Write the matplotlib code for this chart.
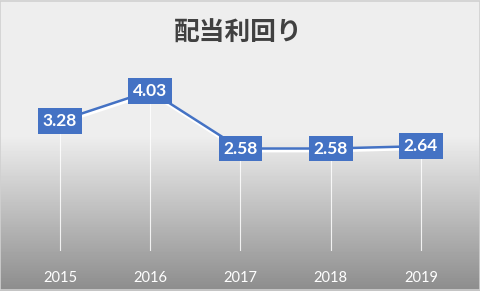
import numpy as np
import matplotlib
matplotlib.use('Agg')
import matplotlib.pyplot as plt
import matplotlib.transforms as mtransforms
from matplotlib.patches import Rectangle

years = ['2015', '2016', '2017', '2018', '2019']
yields = [3.28, 4.03, 2.58, 2.58, 2.64]
title = '配当利回り'

blue = '#4472c4'

fig = plt.figure(figsize=(4.81, 2.91), dpi=100)

# background gradient (flat light gray at top, darker towards the bottom)
bg = fig.add_axes([0, 0, 1, 1], zorder=0)
rows = np.linspace(0, 1, 291)
shade = np.where(rows < 0.47, 0.93, 0.93 - (rows - 0.47) / 0.53 * 0.38)
img = np.repeat(shade[:, None], 2, axis=1)
bg.imshow(img, cmap='gray', vmin=0, vmax=1, aspect='auto',
          extent=[0, 1, 0, 1], origin='upper')
bg.set_xlim(0, 1)
bg.set_ylim(0, 1)
bg.axis('off')
bg.add_patch(Rectangle((0.001, 0.002), 0.997, 0.995, fill=False,
                       edgecolor='#d0d0d0', linewidth=1.2))

ax = fig.add_axes([0.031, 0.137, 0.938, 0.615], zorder=1)
ax.patch.set_alpha(0)
x = np.arange(len(years))

# drop lines
ax.vlines(x, 0, yields, color='white', linewidth=0.8, alpha=0.85, zorder=1)

# white shadow under the line
shadow_tr = mtransforms.offset_copy(ax.transData, fig=fig, x=0.8, y=-1.8,
                                    units='dots')
ax.plot(x, yields, color='white', linewidth=3.0, transform=shadow_tr,
        zorder=2, solid_capstyle='round')
ax.plot(x, yields, color=blue, linewidth=1.8, zorder=3,
        solid_capstyle='round')

for xi, v in zip(x, yields):
    ax.text(xi, v, f'{v:.2f}', ha='center', va='center', color='white',
            fontsize=12.5, fontweight='bold', family=['Lato', 'DejaVu Sans'],
            zorder=4,
            bbox=dict(boxstyle='square,pad=0.28', facecolor=blue,
                      edgecolor='none'))

ax.set_xlim(-0.5, len(years) - 0.5)
ax.set_ylim(0, 4.5)
ax.set_yticks([])
ax.set_xticks(x)
ax.set_xticklabels(years, color='white', fontsize=10.5,
                   family=['Lato', 'DejaVu Sans'])
ax.tick_params(axis='x', length=0, pad=14)
for s in ax.spines.values():
    s.set_visible(False)

fig.text(0.495, 0.886, title, ha='center', va='center', fontsize=18.5,
         fontweight='bold', color='#404040',
         family=['Noto Sans CJK JP', 'DejaVu Sans'])

fig.savefig('out.png', dpi=100)
